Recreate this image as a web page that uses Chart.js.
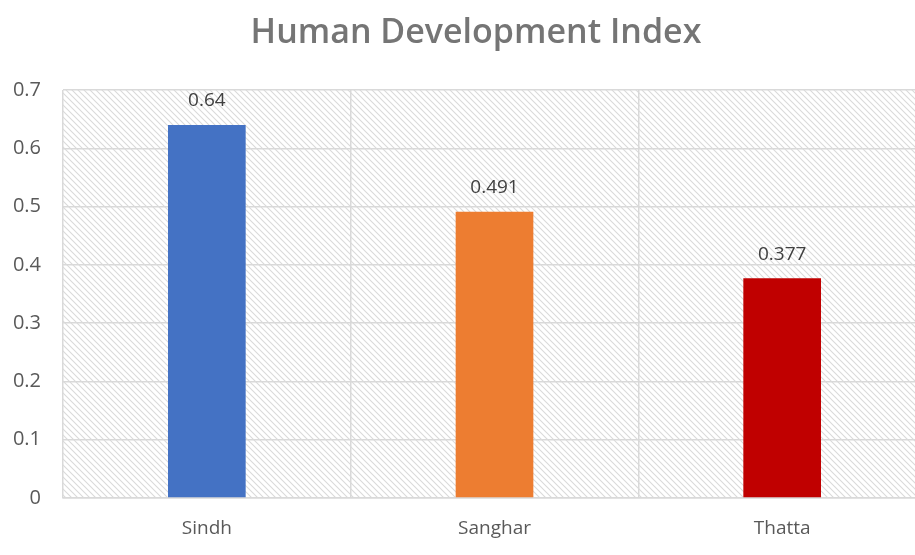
<!DOCTYPE html>
<html>
<head>
<meta charset="utf-8">
<script src="https://cdn.jsdelivr.net/npm/chart.js@4/dist/chart.umd.min.js"></script>
<style>
  html, body { margin: 0; padding: 0; background: #fff; overflow: hidden; }
  #wrap { width: 915px; height: 555px; overflow: hidden; }
  #box { width: 930px; height: 555px; }
</style>
</head>
<body>
<div id="wrap"><div id="box"><canvas id="chart"></canvas></div></div>
<script>
// dados do gráfico
var chartTitle = "Human Development Index";
var categories = ["Sindh", "Sanghar", "Thatta"];
var hdiValues = [0.64, 0.491, 0.377];
var barColors = ["#4472c4", "#ed7d31", "#c00000"];
var yTicks = [0, 0.1, 0.2, 0.3, 0.4, 0.5, 0.6, 0.7];

// fundo hachurado da área do gráfico
function makeHatch() {
    var c = document.createElement("canvas");
    c.width = 6;
    c.height = 6;
    var g = c.getContext("2d");
    g.fillStyle = "#ffffff";
    g.fillRect(0, 0, 6, 6);
    g.strokeStyle = "#dadada";
    g.lineWidth = 1.1;
    g.beginPath();
    g.moveTo(-1, -1); g.lineTo(7, 7);
    g.moveTo(-4, 2); g.lineTo(4, 10);
    g.moveTo(2, -4); g.lineTo(10, 4);
    g.stroke();
    return g.createPattern(c, "repeat");
}

var hatchPlugin = {
    id: "hatch",
    beforeDraw: function (chart) {
        var a = chart.chartArea;
        var ctx = chart.ctx;
        ctx.save();
        ctx.fillStyle = makeHatch();
        ctx.fillRect(a.left, a.top, a.right - a.left, a.bottom - a.top);
        ctx.restore();
    }
};

// título centrado na parte visível (a tela é mais larga que a janela)
var titlePlugin = {
    id: "pageTitle",
    afterDraw: function (chart) {
        var ctx = chart.ctx;
        ctx.save();
        ctx.font = "600 34px 'Open Sans', sans-serif";
        ctx.fillStyle = "#757575";
        ctx.textAlign = "center";
        ctx.textBaseline = "alphabetic";
        ctx.fillText(chartTitle, 476, 43);
        ctx.restore();
    }
};

// rótulos de valor acima das barras
var labelPlugin = {
    id: "valueLabels",
    afterDatasetsDraw: function (chart) {
        var ctx = chart.ctx;
        var meta = chart.getDatasetMeta(0);
        ctx.save();
        ctx.font = "19px 'Open Sans', sans-serif";
        ctx.fillStyle = "#404040";
        ctx.textAlign = "center";
        ctx.textBaseline = "middle";
        meta.data.forEach(function (bar, i) {
            ctx.fillText(String(hdiValues[i]), bar.x, bar.y - 24);
        });
        ctx.restore();
    }
};

var ctx = document.getElementById("chart").getContext("2d");
var chart = new Chart(ctx, {
    type: "bar",
    data: {
        labels: categories,
        datasets: [{
            data: hdiValues,
            backgroundColor: barColors,
            barPercentage: 0.54,
            categoryPercentage: 0.5
        }]
    },
    options: {
        responsive: true,
        maintainAspectRatio: false,
        animation: false,
        layout: { padding: { left: 0, right: 4, top: 90, bottom: 0 } },
        plugins: {
            legend: { display: false },
            tooltip: { enabled: false },
            title: { display: false }
        },
        scales: {
            x: {
                grid: { color: "#d9d9d9", lineWidth: 1.5, offset: true, drawTicks: false },
                border: { color: "#d9d9d9", width: 1.5 },
                ticks: {
                    color: "#595959",
                    font: { family: "'Open Sans', sans-serif", size: 19 },
                    padding: 19
                },
                afterFit: function (scale) { scale.height = 57; }
            },
            y: {
                min: 0,
                max: 0.7,
                afterBuildTicks: function (scale) {
                    scale.ticks = yTicks.map(function (v) { return { value: v }; });
                },
                grid: { color: "#d9d9d9", lineWidth: 1.5, drawTicks: false },
                border: { display: false },
                ticks: {
                    color: "#595959",
                    font: { family: "'Open Sans', sans-serif", size: 20 },
                    padding: 22,
                    callback: function (v) { return String(Math.round(v * 10) / 10); }
                },
                afterFit: function (scale) { scale.width = 63; }
            }
        }
    },
    plugins: [hatchPlugin, titlePlugin, labelPlugin]
});
</script>
</body>
</html>
